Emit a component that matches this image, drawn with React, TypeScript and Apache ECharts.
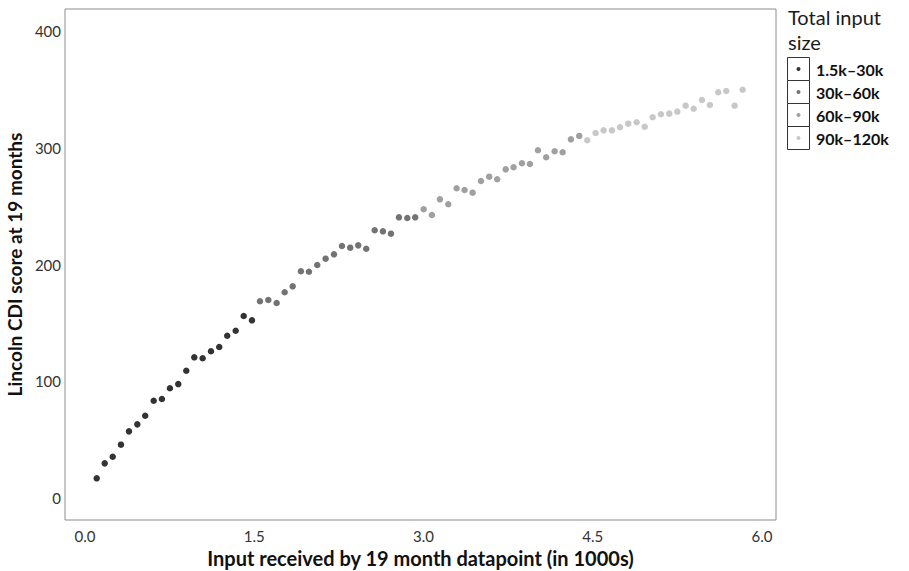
import React, { useEffect, useRef } from "react";
import * as echarts from "echarts";

const groupNames = ["1.5k–30k", "30k–60k", "60k–90k", "90k–120k"];
const groupColors = ["#333333", "#737373", "#a0a0a0", "#c8c8c8"];

const xGroup1 = [0.104, 0.175, 0.246, 0.319, 0.39, 0.464, 0.534, 0.609, 0.682, 0.753, 0.827, 0.898, 0.969, 1.043, 1.117, 1.19, 1.261, 1.336, 1.407, 1.48];
const yGroup1 = [16.9, 29.7, 35.4, 45.7, 57.1, 63.1, 70.5, 83.3, 84.8, 94.0, 97.6, 109.0, 120.5, 119.7, 125.7, 129.3, 139.0, 143.3, 155.9, 152.2];

const xGroup2 = [1.551, 1.625, 1.699, 1.77, 1.841, 1.914, 1.985, 2.059, 2.133, 2.207, 2.278, 2.351, 2.422, 2.493, 2.568, 2.641, 2.712, 2.783, 2.857, 2.927];
const yGroup2 = [168.5, 169.6, 167.0, 176.2, 181.3, 194.2, 193.8, 199.6, 205.0, 208.7, 215.8, 214.4, 216.4, 213.5, 229.3, 228.4, 226.4, 240.4, 239.8, 240.4];

const xGroup3 = [3.002, 3.075, 3.146, 3.22, 3.294, 3.365, 3.436, 3.51, 3.583, 3.654, 3.729, 3.799, 3.873, 3.944, 4.015, 4.088, 4.163, 4.234, 4.307, 4.381];
const yGroup3 = [247.3, 242.4, 255.8, 251.6, 265.3, 263.8, 261.5, 271.5, 275.2, 273.0, 281.5, 283.3, 286.7, 286.1, 297.8, 291.8, 297.0, 296.1, 307.2, 310.1];

const xGroup4 = [4.452, 4.526, 4.597, 4.671, 4.742, 4.815, 4.89, 4.961, 5.032, 5.105, 5.179, 5.25, 5.324, 5.395, 5.469, 5.539, 5.613, 5.684, 5.758, 5.829];
const yGroup4 = [306.4, 312.6, 314.9, 314.9, 317.5, 320.6, 321.8, 318.0, 326.1, 328.7, 329.2, 330.9, 336.0, 333.4, 340.9, 336.6, 347.5, 348.6, 336.0, 349.7];

const xTicks = [0, 1.5, 3, 4.5, 6];
const yTicks = [0, 100, 200, 300, 400];

const xTitle = "Input received by 19 month datapoint (in 1000s)";
const yTitle = "Lincoln CDI score at 19 months";
const legendTitle = "Total input\nsize";

const FONT = "Lato";

export default function App() {
  const ref = useRef<HTMLDivElement>(null);
  useEffect(() => {
    document.body.style.margin = "0";
    const chart = echarts.init(ref.current!, null, { renderer: "svg" });
    const xs = [xGroup1, xGroup2, xGroup3, xGroup4];
    const ys = [yGroup1, yGroup2, yGroup3, yGroup4];
    const series = groupNames.map((name, i) => ({
      type: "scatter",
      name,
      data: xs[i].map((x, j) => [x, ys[i][j]]),
      symbolSize: 6.5,
      itemStyle: { color: groupColors[i], opacity: 1 },
      silent: true,
    }));

    const legendX = 787;
    const legendY0 = 57;
    const keyH = 23;
    const legendGraphics: any[] = [
      {
        type: "text",
        left: 788,
        top: 4,
        style: {
          text: legendTitle,
          font: `20px ${FONT}`,
          fill: "#1a1a1a",
          lineHeight: 25,
        },
      },
    ];
    groupNames.forEach((name, i) => {
      const y = legendY0 + i * keyH;
      legendGraphics.push({
        type: "rect",
        shape: { x: legendX + 0.5, y: y + 0.5, width: 22, height: keyH },
        style: { fill: "#ffffff", stroke: "#333333", lineWidth: 1 },
      });
      legendGraphics.push({
        type: "circle",
        shape: { cx: legendX + 11.5, cy: y + 12, r: 2 },
        style: { fill: groupColors[i] },
      });
      legendGraphics.push({
        type: "text",
        x: 816,
        y: y + 12,
        style: {
          text: name,
          font: `bold 16px ${FONT}`,
          fill: "#111111",
          verticalAlign: "middle",
        },
      });
    });

    chart.setOption({
      animation: false,
      backgroundColor: "#ffffff",
      textStyle: { fontFamily: FONT },
      grid: {
        left: 65,
        right: 133,
        top: 9,
        bottom: 51,
        show: true,
        borderColor: "#8c8c8c",
        borderWidth: 1,
        backgroundColor: "transparent",
        containLabel: false,
        outerBoundsMode: "none",
      },
      xAxis: {
        type: "value",
        min: -0.177,
        max: 6.125,
        name: xTitle,
        nameLocation: "middle",
        nameGap: 23,
        nameTextStyle: { fontSize: 20, fontWeight: "bold", color: "#111", fontFamily: FONT },
        axisLine: { show: false },
        axisTick: { show: false },
        splitLine: { show: false },
        axisLabel: {
          customValues: xTicks,
          formatter: (v: number) => v.toFixed(1),
          fontSize: 15,
          color: "#333",
          margin: 8,
          fontFamily: FONT,
        },
      },
      yAxis: {
        type: "value",
        min: -18.8,
        max: 418.8,
        name: yTitle,
        nameLocation: "middle",
        nameGap: 38,
        nameTextStyle: { fontSize: 19, fontWeight: "bold", color: "#111", fontFamily: FONT },
        axisLine: { show: false },
        axisTick: { show: false },
        splitLine: { show: false },
        axisLabel: {
          customValues: yTicks,
          formatter: (v: number) => String(v),
          fontSize: 15,
          color: "#333",
          margin: 4,
          fontFamily: FONT,
        },
      },
      graphic: legendGraphics,
      series,
    });
    return () => chart.dispose();
  }, []);
  return <div ref={ref} style={{ width: 909, height: 571 }} />;
}
